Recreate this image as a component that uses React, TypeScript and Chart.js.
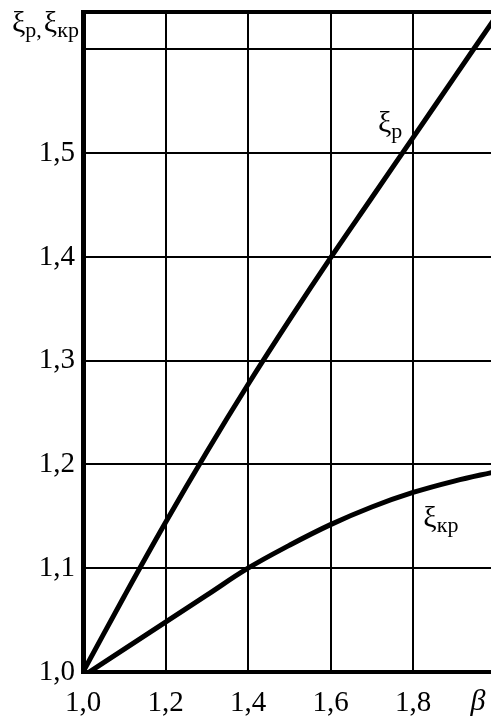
import React, { useEffect, useRef } from "react";
import { Chart, registerables } from "chart.js";

Chart.register(...registerables);

const betaValues = [1.0, 1.1, 1.2, 1.3, 1.4, 1.5, 1.6, 1.7, 1.8, 1.9, 2.0];
const xiP = [1.0, 1.073, 1.144, 1.212, 1.277, 1.339, 1.399, 1.457, 1.515, 1.573, 1.631];
const xiKr = [0.996, 1.022, 1.048, 1.074, 1.1, 1.122, 1.142, 1.159, 1.173, 1.184, 1.193];
const xTickStep = 0.2;
const yTickStep = 0.1;
const yHiddenTicks = [1.6];

const FONT = "'Liberation Serif', 'Times New Roman', serif";

function fmt(v: number) {
  return (Math.round(v * 10) / 10).toFixed(1).replace(".", ",");
}

function drawSub(ctx: CanvasRenderingContext2D, x: number, y: number, main: string, sub: string, size: number) {
  ctx.font = `${size}px ${FONT}`;
  ctx.fillText(main, x, y);
  const w = ctx.measureText(main).width;
  ctx.font = `${Math.round(size * 0.72)}px ${FONT}`;
  ctx.fillText(sub, x + w, y + size * 0.18);
  return w + ctx.measureText(sub).width;
}

const annotations = {
  id: "annotations",
  afterDraw(chart: any) {
    const ctx = chart.ctx as CanvasRenderingContext2D;
    const { chartArea, scales } = chart;
    ctx.save();
    // top frame line
    ctx.strokeStyle = "#000";
    ctx.lineWidth = 4;
    ctx.beginPath();
    ctx.moveTo(chartArea.left - 2, chartArea.top);
    ctx.lineTo(chartArea.right, chartArea.top);
    ctx.stroke();

    ctx.fillStyle = "#000";
    ctx.textAlign = "left";
    ctx.textBaseline = "alphabetic";
    // axis title
    let x = 12;
    x += drawSub(ctx, x, 32, "ξ", "р,", 30);
    x += 2;
    drawSub(ctx, x, 32, "ξ", "кр", 30);

    // curve labels
    const xs = scales.x;
    const ys = scales.y;
    drawSub(ctx, xs.getPixelForValue(1.715), ys.getPixelForValue(1.52), "ξ", "р", 30);
    drawSub(ctx, xs.getPixelForValue(1.825), ys.getPixelForValue(1.14), "ξ", "кр", 30);

    // beta
    ctx.font = `italic 30px ${FONT}`;
    ctx.textAlign = "center";
    ctx.fillText("β", 478, 710);
    ctx.restore();
  },
};

export default function App() {
  const ref = useRef<HTMLCanvasElement | null>(null);
  useEffect(() => {
    document.body.style.margin = "0";
    const chart = new Chart(ref.current as HTMLCanvasElement, {
      type: "line",
      data: {
        datasets: [
          {
            label: "ξр",
            data: betaValues.map((b, i) => ({ x: b, y: xiP[i] })),
            borderColor: "#000",
            borderWidth: 5,
            pointRadius: 0,
            tension: 0.4,
            fill: false,
          },
          {
            label: "ξкр",
            data: betaValues.map((b, i) => ({ x: b, y: xiKr[i] })),
            borderColor: "#000",
            borderWidth: 5,
            pointRadius: 0,
            tension: 0.4,
            fill: false,
          },
        ],
      },
      options: {
        animation: false,
        responsive: false,
        layout: { padding: { top: 12, left: 0, right: 0, bottom: 0 } },
        plugins: { legend: { display: false }, tooltip: { enabled: false } },
        scales: {
          x: {
            type: "linear",
            min: 1.0,
            max: 1.989,
            afterFit: (s: any) => {
              s.height = 46;
              s.paddingLeft = 0;
              s.paddingRight = 0;
            },
            ticks: {
              stepSize: xTickStep,
              includeBounds: false,
              color: "#000",
              font: { family: FONT, size: 29 },
              padding: 14,
              maxRotation: 0,
              callback: (v: any) => fmt(Number(v)),
            },
            grid: { color: "#000", lineWidth: 2, drawTicks: false },
            border: { display: true, color: "#000", width: 4 },
          },
          y: {
            type: "linear",
            min: 1.0,
            max: 1.636,
            afterFit: (s: any) => {
              s.width = 83;
              s.paddingTop = 0;
              s.paddingBottom = 0;
            },
            ticks: {
              stepSize: yTickStep,
              includeBounds: false,
              color: "#000",
              font: { family: FONT, size: 29 },
              padding: 8,
              callback: (v: any) => {
                const r = Math.round(Number(v) * 10) / 10;
                return yHiddenTicks.includes(r) ? "" : fmt(r);
              },
            },
            grid: { color: "#000", lineWidth: 2, drawTicks: false },
            border: { display: true, color: "#000", width: 5 },
          },
        },
      },
      plugins: [annotations],
    } as any);
    return () => chart.destroy();
  }, []);
  return (
    <div style={{ position: "absolute", left: 0, top: 0, width: 491, height: 718, background: "#fff" }}>
      <canvas ref={ref} width={491} height={718} />
    </div>
  );
}
